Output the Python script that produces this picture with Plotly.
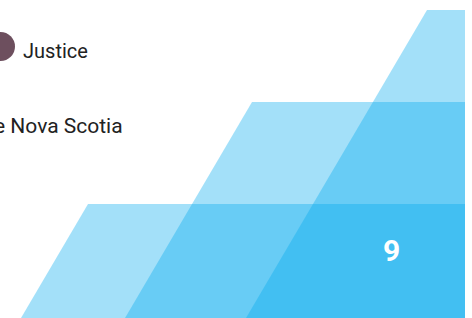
import plotly.graph_objects as go

W, H = 472, 318

# Decorative translucent parallelograms (vertices in page pixel space)
band_names = ["top", "middle", "bottom"]
band_x = [
    [427, 465, 465, 246],
    [252, 465, 465, 125],
    [88, 465, 465, 21],
]
band_y = [
    [10, 10, 318, 318],
    [102, 102, 318, 318],
    [204, 204, 318, 318],
]
band_color = "rgba(0,168,238,0.36)"

labels = ["Justice", "e Nova Scotia"]
page_number = "9"
dot_color = "#6d4f5e"

fig = go.Figure()
for name, xs, ys in zip(band_names, band_x, band_y):
    fig.add_trace(go.Scatter(
        x=xs + [xs[0]], y=ys + [ys[0]], mode="lines", fill="toself",
        fillcolor=band_color, line=dict(width=0), hoverinfo="skip",
        name=name, showlegend=False,
    ))

fig.add_trace(go.Scatter(
    x=[0.5], y=[46.5], mode="markers",
    marker=dict(size=29, color=dot_color, line=dict(width=0)),
    showlegend=False, hoverinfo="skip", cliponaxis=False,
))

fig.add_annotation(x=21, y=51, text=labels[0], showarrow=False, xanchor="left",
                   yanchor="middle", font=dict(family="Roboto", size=20, color="#222222"))
fig.add_annotation(x=125, y=126, text=labels[1], showarrow=False, xanchor="right",
                   yanchor="middle", font=dict(family="Roboto", size=21, color="#222222"))
fig.add_annotation(x=391, y=250, text="<b>" + page_number + "</b>", showarrow=False,
                   xanchor="center", yanchor="middle",
                   font=dict(family="Roboto", size=30, color="#ffffff"))

fig.update_layout(
    width=W, height=H, margin=dict(l=0, r=0, t=0, b=0),
    paper_bgcolor="#ffffff", plot_bgcolor="#ffffff",
    xaxis=dict(range=[0, W], visible=False, fixedrange=True),
    yaxis=dict(range=[H, 0], visible=False, fixedrange=True),
    showlegend=False,
)
fig.write_html("out.html", config={"displayModeBar": False},
               post_script="document.body.style.margin='0';document.body.style.overflow='hidden';")
